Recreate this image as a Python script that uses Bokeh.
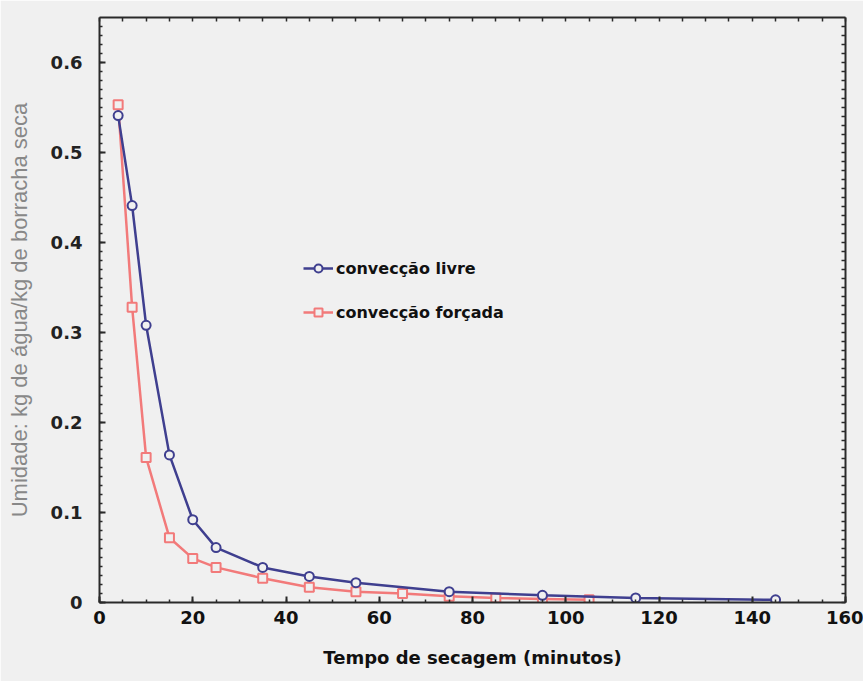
from bokeh.plotting import figure
from bokeh.models import LinearAxis, Legend, LegendItem, Range1d, FixedTicker
from bokeh.embed import file_html
from bokeh.resources import INLINE

# Data
tempo_livre = [4, 7, 10, 15, 20, 25, 35, 45, 55, 75, 95, 115, 145]
umid_livre = [0.541, 0.441, 0.308, 0.164, 0.092, 0.061, 0.039, 0.029, 0.022, 0.012, 0.008, 0.005, 0.003]

tempo_forcada = [4, 7, 10, 15, 20, 25, 35, 45, 55, 65, 75, 85, 95, 105]
umid_forcada = [0.553, 0.328, 0.161, 0.072, 0.049, 0.039, 0.027, 0.017, 0.012, 0.010, 0.007, 0.005, 0.004, 0.003]

x_ticks = [0, 20, 40, 60, 80, 100, 120, 140, 160]
y_ticks = [0, 0.1, 0.2, 0.3, 0.4, 0.5, 0.6]
y_tick_labels = {0: "0", 0.1: "0.1", 0.2: "0.2", 0.3: "0.3", 0.4: "0.4", 0.5: "0.5", 0.6: "0.6"}
x_minor = list(range(0, 161, 5))
y_minor = [i / 100 for i in range(0, 65)]

label_livre = "convecção livre"
label_forcada = "convecção forçada"
x_title = "Tempo de secagem (minutos)"
y_title = "Umidade: kg de água/kg de borracha seca"

BG = "#f0f0f0"
BLUE = "#3f3f8f"
RED = "#f27a7a"
AXC = "#2a2a2a"

p = figure(width=863, height=681, output_backend="svg", toolbar_location=None,
           x_range=Range1d(0, 160), y_range=Range1d(0, 0.65),
           min_border_left=99, min_border_right=18, min_border_top=17, min_border_bottom=79,
           background_fill_color=BG, border_fill_color=BG, outline_line_color=None)
p.xgrid.visible = False
p.ygrid.visible = False

def style_axis(ax):
    ax.axis_line_color = AXC
    ax.axis_line_width = 2
    ax.major_tick_in = 6
    ax.major_tick_out = 0
    ax.minor_tick_in = 3
    ax.minor_tick_out = 0
    ax.major_tick_line_color = AXC
    ax.minor_tick_line_color = AXC
    ax.major_tick_line_width = 2
    ax.minor_tick_line_width = 1.5

xax = p.xaxis[0]
yax = p.yaxis[0]
xax.ticker = FixedTicker(ticks=x_ticks, minor_ticks=x_minor)
yax.ticker = FixedTicker(ticks=y_ticks, minor_ticks=y_minor)
style_axis(xax)
style_axis(yax)
yax.major_label_overrides = y_tick_labels

xax.major_label_text_font = "DejaVu Sans"
xax.major_label_text_font_style = "bold"
xax.major_label_text_font_size = "18px"
xax.major_label_text_color = "#111111"
xax.major_label_standoff = 8
xax.axis_label = x_title
xax.axis_label_text_font = "DejaVu Sans"
xax.axis_label_text_font_style = "bold"
xax.axis_label_text_font_size = "18px"
xax.axis_label_text_color = "#111111"
xax.axis_label_standoff = 20

yax.major_label_text_font = "DejaVu Sans"
yax.major_label_text_font_style = "bold"
yax.major_label_text_font_size = "18px"
yax.major_label_text_color = "#222222"
yax.major_label_standoff = 17
yax.axis_label = y_title
yax.axis_label_text_font = "Liberation Sans"
yax.axis_label_text_font_style = "normal"
yax.axis_label_text_font_size = "22px"
yax.axis_label_text_color = "#888888"
yax.axis_label_standoff = 16

# frame-only axes on top and right: ticks without labels
top_ax = LinearAxis(ticker=FixedTicker(ticks=[], minor_ticks=x_minor))
right_ax = LinearAxis(ticker=FixedTicker(ticks=[], minor_ticks=y_minor))
style_axis(top_ax)
style_axis(right_ax)
top_ax.minor_tick_in = 4
right_ax.minor_tick_in = 4
p.add_layout(top_ax, "above")
p.add_layout(right_ax, "right")

# series
rl = p.line(tempo_forcada, umid_forcada, line_color=RED, line_width=2.5)
rm = p.scatter(tempo_forcada, umid_forcada, marker="square", size=9,
               line_color=RED, line_width=2, fill_color=BG)
bl = p.line(tempo_livre, umid_livre, line_color=BLUE, line_width=2.5)
bm = p.scatter(tempo_livre, umid_livre, marker="circle", size=9,
               line_color=BLUE, line_width=2, fill_color=BG)

legend = Legend(items=[LegendItem(label=label_livre, renderers=[bl, bm]),
                       LegendItem(label=label_forcada, renderers=[rl, rm])],
                location=(204, 280), orientation="vertical",
                background_fill_alpha=0, border_line_color=None,
                padding=0, margin=0, spacing=24,
                glyph_width=30, glyph_height=20, label_height=20,
                label_standoff=3,
                label_text_font="DejaVu Sans", label_text_font_style="bold",
                label_text_font_size="16px", label_text_color="#111111")
p.add_layout(legend, "center")

open("out.html", "w").write(file_html(p, INLINE))
